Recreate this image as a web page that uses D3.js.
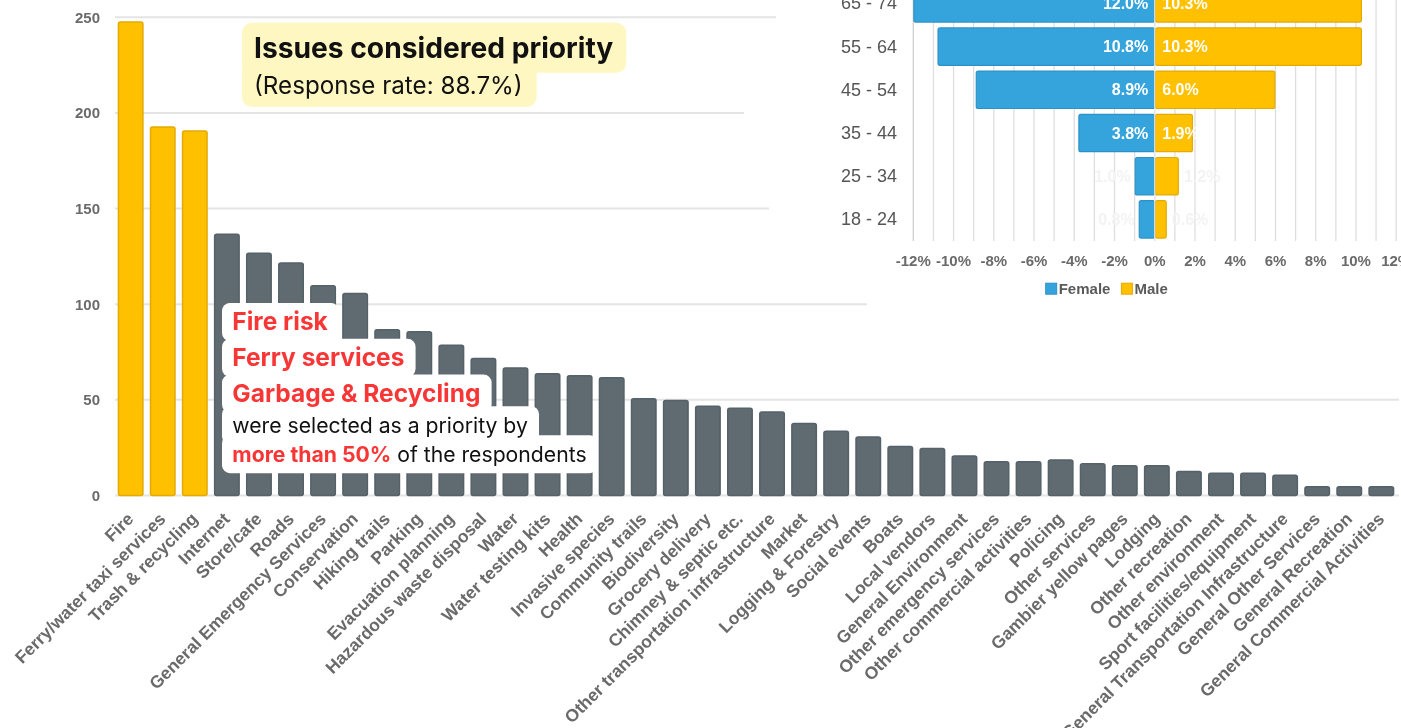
<!DOCTYPE html>
<html>
<head>
<meta charset="utf-8">
<script src="https://cdn.jsdelivr.net/npm/d3@7"></script>
<style>
  html, body { margin: 0; padding: 0; background: #fff; }
  svg { display: block; }
</style>
</head>
<body>
<svg id="chart" width="1401" height="728"></svg>
<script>
// ---- Priority issues (number of respondents) ----
const categories = [
  "Fire", "Ferry/water taxi services", "Trash & recycling", "Internet", "Store/cafe",
  "Roads", "General Emergency Services", "Conservation", "Hiking trails", "Parking",
  "Evacuation planning", "Hazardous waste disposal", "Water", "Water testing kits", "Health",
  "Invasive species", "Community trails", "Biodiversity", "Grocery delivery", "Chimney & septic etc.",
  "Other transportation infrastructure", "Market", "Logging & Forestry", "Social events", "Boats",
  "Local vendors", "General Environment", "Other emergency services", "Other commercial activities", "Policing",
  "Other services", "Gambier yellow pages", "Lodging", "Other recreation", "Other environment",
  "Sport facilities/equipment", "General Transportation Infrastructure", "General Other Services",
  "General Recreation", "General Commercial Activities"
];
const counts = [
  248, 193, 191, 137, 127,
  122, 110, 106, 87, 86,
  79, 72, 67, 64, 63,
  62, 51, 50, 47, 46,
  44, 38, 34, 31, 26,
  25, 21, 18, 18, 19,
  17, 16, 16, 13, 12,
  12, 11, 5, 5, 5
];
const topPriorities = ["Fire", "Ferry/water taxi services", "Trash & recycling"];
const countTicks = [0, 50, 100, 150, 200, 250];

// ---- Respondent age / gender profile (% of respondents) ----
const ageGroups = ["65 - 74", "55 - 64", "45 - 54", "35 - 44", "25 - 34", "18 - 24"];
const femalePct = [12.0, 10.8, 8.9, 3.8, 1.0, 0.8];
const malePct = [10.3, 10.3, 6.0, 1.9, 1.2, 0.6];
const pctTicks = [-12, -10, -8, -6, -4, -2, 0, 2, 4, 6, 8, 10, 12];
const genderLabels = ["Female", "Male"];

// ---- Text ----
const titleText = "Issues considered priority";
const subtitleText = "(Response rate: 88.7%)";
const noteLines = [
  [{ text: "Fire risk", em: true }],
  [{ text: "Ferry services", em: true }],
  [{ text: "Garbage & Recycling", em: true }],
  [{ text: "were selected as a priority by", em: false }],
  [{ text: "more than 50%", em: true }, { text: " of the respondents", em: false }]
];

const YELLOW = "#FFC000", YELLOW_EDGE = "#E3AA00";
const GREY = "#5E6B71", GREY_EDGE = "#55626A";
const BLUE = "#35A4DC", BLUE_EDGE = "#2C92C8";
const RED = "#F93636";
const AXIS_TXT = "#6a6a6a";

const svg = d3.select("#chart");
const defs = svg.append("defs");
defs.append("filter").attr("id", "soft")
  .append("feGaussianBlur").attr("stdDeviation", 0.45);

// ================= Main bar chart =================
const x = d3.scaleBand().domain(categories).range([114, 1398])
  .paddingInner(0.19).paddingOuter(0.115);
const y = d3.scaleLinear().domain([0, 250]).range([495.5, 17.3]);

const main = svg.append("g").attr("filter", "url(#soft)");

main.append("g").selectAll("line").data(countTicks).join("line")
  .attr("x1", 115).attr("x2", 1399)
  .attr("y1", d => y(d)).attr("y2", d => y(d))
  .attr("stroke", "#e4e4e4").attr("stroke-width", 2);

main.append("g").selectAll("text").data(countTicks).join("text")
  .attr("x", 100).attr("y", d => y(d))
  .attr("text-anchor", "end").attr("dominant-baseline", "central")
  .attr("font-family", "Liberation Sans, Arial, sans-serif")
  .attr("font-weight", "bold").attr("font-size", 15)
  .attr("fill", AXIS_TXT).text(d => d);

const isTop = c => topPriorities.includes(c);
main.append("g").selectAll("rect").data(categories).join("rect")
  .attr("x", d => x(d) + 0.75)
  .attr("width", x.bandwidth() - 1.5)
  .attr("y", (d, i) => y(counts[i]) + 0.75)
  .attr("height", (d, i) => y(0) - y(counts[i]) - 0.75)
  .attr("rx", 2)
  .attr("fill", d => isTop(d) ? YELLOW : GREY)
  .attr("stroke", d => isTop(d) ? YELLOW_EDGE : GREY_EDGE)
  .attr("stroke-width", 1.5);

main.append("g").selectAll("text").data(categories).join("text")
  .attr("transform", d => `translate(${x(d) + x.bandwidth() / 2 + 4},520) rotate(-45)`)
  .attr("text-anchor", "end")
  .attr("font-family", "Liberation Sans, Arial, sans-serif")
  .attr("font-weight", "bold").attr("font-size", 17.5)
  .attr("fill", AXIS_TXT).text(d => d);

// ================= Age / gender inset =================
const panel = svg.append("g");
panel.append("path")
  .attr("d", "M776,0 L776,62 L744,62 L744,160 L769,160 L769,255 L867,255 L867,330 L1401,330 L1401,0 Z")
  .attr("fill", "#fff");

const inset = panel.append("g").attr("filter", "url(#soft)");
const px = d3.scaleLinear().domain([-12, 12]).range([913.3, 1396.2]);
const py = d3.scaleBand().domain(ageGroups).range([-18.2, 241])
  .paddingInner(0.134).paddingOuter(0.067);

inset.append("g").selectAll("line").data(d3.range(-12, 13)).join("line")
  .attr("x1", d => px(d)).attr("x2", d => px(d))
  .attr("y1", -20).attr("y2", 241)
  .attr("stroke", d => d === -12 ? "#cfcfcf" : "#dedede").attr("stroke-width", 1.3);

inset.append("g").selectAll("rect").data(ageGroups).join("rect")
  .attr("x", (d, i) => px(-femalePct[i]) + 0.6)
  .attr("width", (d, i) => px(0) - px(-femalePct[i]) - 0.6)
  .attr("y", d => py(d)).attr("height", py.bandwidth())
  .attr("rx", 2).attr("fill", BLUE).attr("stroke", BLUE_EDGE).attr("stroke-width", 1.2);

inset.append("g").selectAll("rect").data(ageGroups).join("rect")
  .attr("x", px(0) + 0.6)
  .attr("width", (d, i) => px(malePct[i]) - px(0) - 1.2)
  .attr("y", d => py(d)).attr("height", py.bandwidth())
  .attr("rx", 2).attr("fill", YELLOW).attr("stroke", YELLOW_EDGE).attr("stroke-width", 1.2);

inset.append("line")
  .attr("x1", px(0)).attr("x2", px(0)).attr("y1", -20).attr("y2", 241)
  .attr("stroke", "#e8e8e8").attr("stroke-width", 1.2);

// value labels: inside the bar when it is wide enough, otherwise just outside in white
const labelFont = g => g.attr("font-family", "Liberation Sans, Arial, sans-serif")
  .attr("font-weight", "bold").attr("font-size", 16).attr("dominant-baseline", "central");
inset.append("g").selectAll("text").data(ageGroups).join("text")
  .call(labelFont)
  .attr("x", (d, i) => femalePct[i] >= 2 ? px(0) - 6.5 : px(-femalePct[i]) - 4)
  .attr("y", d => py(d) + py.bandwidth() / 2)
  .attr("text-anchor", "end")
  .attr("fill", (d, i) => femalePct[i] >= 2 ? "#fff" : "#f3f3f3")
  .text((d, i) => femalePct[i].toFixed(1) + "%");
inset.append("g").selectAll("text").data(ageGroups).join("text")
  .call(labelFont)
  .attr("x", (d, i) => malePct[i] >= 1.5 ? px(0) + 7.5 : px(malePct[i]) + 5)
  .attr("y", d => py(d) + py.bandwidth() / 2)
  .attr("fill", (d, i) => malePct[i] >= 1.5 ? "#fff" : "#f3f3f3")
  .text((d, i) => malePct[i].toFixed(1) + "%");

inset.append("g").selectAll("text").data(ageGroups).join("text")
  .attr("x", 897).attr("y", d => py(d) + py.bandwidth() / 2)
  .attr("text-anchor", "end").attr("dominant-baseline", "central")
  .attr("font-family", "Liberation Sans, Arial, sans-serif")
  .attr("font-size", 18).attr("fill", "#555").text(d => d);

inset.append("g").selectAll("text").data(pctTicks).join("text")
  .attr("x", d => px(d)).attr("y", 260)
  .attr("text-anchor", "middle").attr("dominant-baseline", "central")
  .attr("font-family", "Liberation Sans, Arial, sans-serif")
  .attr("font-weight", "bold").attr("font-size", 15)
  .attr("fill", AXIS_TXT).text(d => d + "%");

// legend
const legend = inset.append("g").attr("transform", "translate(1045.7,288.7)");
let lx = 0;
genderLabels.forEach((name, i) => {
  legend.append("rect").attr("x", lx).attr("y", -5.5).attr("width", 11).attr("height", 11)
    .attr("fill", i === 0 ? BLUE : YELLOW).attr("stroke", i === 0 ? BLUE_EDGE : YELLOW_EDGE);
  const t = legend.append("text").attr("x", lx + 13).attr("y", 0)
    .attr("dominant-baseline", "central")
    .attr("font-family", "Liberation Sans, Arial, sans-serif")
    .attr("font-weight", "bold").attr("font-size", 15)
    .attr("fill", "#5a5a5a").text(name);
  lx += 13 + t.node().getComputedTextLength() + 11;
});

// ================= Title card =================
const titleG = svg.append("g");
const tBg = titleG.append("g");
const tMain = titleG.append("text").attr("x", 254).attr("y", 58.3)
  .attr("font-family", "Inter, sans-serif").attr("font-weight", 700)
  .attr("font-size", 28.2).attr("fill", "#111").text(titleText);
const tSub = titleG.append("text").attr("x", 254).attr("y", 94)
  .attr("font-family", "Inter, sans-serif").attr("font-weight", 400)
  .attr("font-size", 24.2).attr("fill", "#111").text(subtitleText);
tBg.append("rect").attr("x", 242).attr("y", 22.7)
  .attr("width", tMain.node().getComputedTextLength() + 25).attr("height", 50)
  .attr("rx", 10).attr("fill", "#FFF7C1");
tBg.append("rect").attr("x", 242).attr("y", 58)
  .attr("width", tSub.node().getComputedTextLength() + 26).attr("height", 49)
  .attr("rx", 10).attr("fill", "#FFF7C1");

// ================= Note card =================
// headline lines (a single highlighted phrase) are larger than the sentence lines
const note = svg.append("g");
const noteBg = note.append("g");
let baseline = 330;
noteLines.forEach((parts, li) => {
  const headline = parts.length === 1 && parts[0].em;
  const t = note.append("text").attr("x", 232.3).attr("y", baseline)
    .attr("font-family", "Inter, sans-serif")
    .attr("font-size", headline ? 24.5 : 21.2);
  parts.forEach(p => {
    t.append("tspan").text(p.text)
      .attr("font-weight", p.em ? 700 : 400)
      .attr("fill", p.em ? RED : "#111");
  });
  const w = t.node().getComputedTextLength();
  noteBg.append("rect").attr("x", 222).attr("y", baseline - 27)
    .attr("width", w + 21.5).attr("height", 38)
    .attr("rx", 8).attr("fill", "#fff");
  const next = noteLines[li + 1];
  const nextHeadline = next && next.length === 1 && next[0].em;
  baseline += nextHeadline ? 35.8 : (headline ? 31.6 : 29);
});
</script>
</body>
</html>
